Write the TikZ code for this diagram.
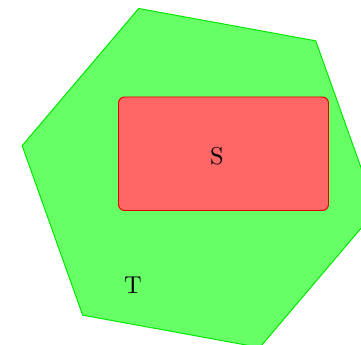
\documentclass[tikz,border=0pt]{standalone}
\usepackage{xcolor}
\usepackage{tikz}
\usetikzlibrary{positioning, calc}
\definecolor{hexgreen}{RGB}{102, 255, 102}
\definecolor{hexedge}{RGB}{0, 230, 0}
\definecolor{setred}{RGB}{255, 102, 102}
\definecolor{setedge}{RGB}{230, 0, 0}
\tikzstyle{hexregion} = [draw=hexedge, fill=hexgreen, line width=0.4pt]
\tikzstyle{setregion} = [draw=setedge, fill=setred, rounded corners=2.5pt, line width=0.4pt]
\tikzstyle{setlabel} = [inner sep=0pt, font=\normalsize]

\begin{document}
\begin{tikzpicture}[x=0.41pt, y=0.41pt]
    \useasboundingbox (0, 0) rectangle (361, 345);
    \clip (0, 0) rectangle (361, 345);

    % Outer hexagon
    \coordinate (hexcenter) at (199.2, 167);
    \draw[hexregion] ($(hexcenter)+(109.65:180)$)
        \foreach \a in {169.65, 229.65, 289.65, 349.65, 49.65} {
            -- ($(hexcenter)+(\a:180)$)
        } -- cycle;

    % Inner rectangle
    \draw[setregion] (118.5, 134.5) rectangle (328.5, 248);

    % Labels
    \node[setlabel] (S) at (217, 189) {S};
    \node[setlabel] (T) at (133, 60) {T};
\end{tikzpicture}
\end{document}
